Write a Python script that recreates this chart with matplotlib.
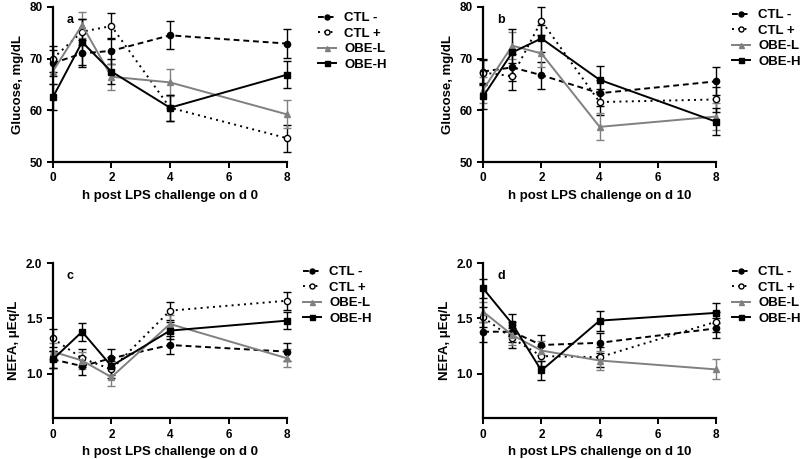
import matplotlib.pyplot as plt

# ----------------------------
# Daten
# ----------------------------
HOURS = [0, 1, 2, 4, 8]
GROUPS = ["CTL -", "CTL +", "OBE-L", "OBE-H"]

# Glukose, Tag 0
glu_d0 = {
    "CTL -": [69.1, 71.0, 71.5, 74.5, 72.9],
    "CTL +": [70.0, 75.2, 76.3, 60.5, 54.6],
    "OBE-L": [67.5, 76.5, 66.5, 65.4, 59.2],
    "OBE-H": [62.5, 73.2, 67.5, 60.5, 66.9],
}
glu_d0_err = {
    "CTL -": [2.5, 2.6, 2.5, 2.7, 2.8],
    "CTL +": [2.5, 2.5, 2.5, 2.5, 2.6],
    "OBE-L": [2.5, 2.5, 2.5, 2.6, 2.7],
    "OBE-H": [2.5, 4.5, 2.5, 2.5, 2.6],
}

# Glukose, Tag 10
glu_d10 = {
    "CTL -": [67.5, 68.3, 66.8, 63.3, 65.6],
    "CTL +": [67.3, 66.6, 77.3, 61.6, 62.1],
    "OBE-L": [64.0, 72.5, 71.0, 56.8, 58.8],
    "OBE-H": [62.7, 71.2, 73.9, 65.9, 57.8],
}
glu_d10_err = {
    "CTL -": [2.5, 2.6, 2.6, 2.5, 2.7],
    "CTL +": [2.5, 2.6, 2.7, 2.5, 2.5],
    "OBE-L": [2.5, 2.6, 2.6, 2.6, 2.6],
    "OBE-H": [2.5, 4.5, 2.6, 2.7, 2.6],
}

# NEFA, Tag 0
nefa_d0 = {
    "CTL -": [1.13, 1.07, 1.14, 1.26, 1.20],
    "CTL +": [1.32, 1.14, 1.04, 1.57, 1.66],
    "OBE-L": [1.20, 1.12, 0.97, 1.45, 1.14],
    "OBE-H": [1.13, 1.38, 1.07, 1.39, 1.48],
}
nefa_d0_err = {
    "CTL -": [0.08, 0.08, 0.08, 0.08, 0.08],
    "CTL +": [0.08, 0.08, 0.08, 0.08, 0.08],
    "OBE-L": [0.08, 0.08, 0.08, 0.08, 0.08],
    "OBE-H": [0.08, 0.08, 0.08, 0.08, 0.08],
}

# NEFA, Tag 10
nefa_d10 = {
    "CTL -": [1.38, 1.38, 1.26, 1.28, 1.41],
    "CTL +": [1.51, 1.32, 1.16, 1.15, 1.47],
    "OBE-L": [1.56, 1.35, 1.21, 1.12, 1.04],
    "OBE-H": [1.77, 1.45, 1.03, 1.48, 1.55],
}
nefa_d10_err = {
    "CTL -": [0.09, 0.09, 0.09, 0.09, 0.09],
    "CTL +": [0.09, 0.09, 0.09, 0.09, 0.09],
    "OBE-L": [0.09, 0.09, 0.09, 0.09, 0.09],
    "OBE-H": [0.09, 0.09, 0.09, 0.09, 0.09],
}

# ----------------------------
# Stil
# ----------------------------
plt.rcParams["font.family"] = ["Liberation Sans", "DejaVu Sans"]
plt.rcParams["font.weight"] = "bold"

STYLE = {
    "CTL -": dict(color="black", ls=(0, (3, 2)), marker="o", mfc="black", lw=1.4),
    "CTL +": dict(color="black", ls=(0, (1, 2.2)), marker="o", mfc="white", lw=1.4),
    "OBE-L": dict(color="#808080", ls="-", marker="^", mfc="#808080", lw=1.4),
    "OBE-H": dict(color="black", ls="-", marker="s", mfc="black", lw=1.4),
}


def draw_panel(fig, ax, data, err, letter, xlabel, ylabel, ylim, yticks, leg_xy):
    handles = []
    for g in GROUPS:
        st = STYLE[g]
        c = ax.errorbar(HOURS, data[g], yerr=err[g], color=st["color"], ls=st["ls"],
                        lw=st["lw"], marker=st["marker"], mfc=st["mfc"], mec=st["color"],
                        ms=4.5, mew=1.0, capsize=3, elinewidth=1.0, ecolor=st["color"],
                        clip_on=False)
        handles.append(c[0])
    ax.set_xlim(0, 8)
    ax.set_ylim(*ylim)
    ax.set_xticks([0, 2, 4, 6, 8])
    ax.set_yticks(yticks)
    ax.spines["top"].set_visible(False)
    ax.spines["right"].set_visible(False)
    ax.spines["left"].set_linewidth(1.6)
    ax.spines["bottom"].set_linewidth(1.6)
    ax.tick_params(width=1.4, length=4, labelsize=8.5)
    for t in ax.get_xticklabels() + ax.get_yticklabels():
        t.set_fontweight("bold")
    ax.set_xlabel(xlabel, fontsize=9.5, fontweight="bold", labelpad=4)
    ax.set_ylabel(ylabel, fontsize=9.5, fontweight="bold")
    ax.text(0.06, 0.915, letter, transform=ax.transAxes, fontsize=9,
            fontweight="bold", va="center")
    # Legende in Pixel-Koordinaten (oben links)
    leg = ax.legend(handles, GROUPS, loc="upper left",
                    bbox_to_anchor=(leg_xy[0] / 800, 1 - leg_xy[1] / 459),
                    bbox_transform=fig.transFigure, frameon=False,
                    fontsize=9.5, handlelength=1.4, handletextpad=0.6,
                    labelspacing=0.25, borderpad=0, borderaxespad=0,
                    markerscale=0.8)
    for t in leg.get_texts():
        t.set_fontweight("bold")


fig = plt.figure(figsize=(8, 4.59), dpi=100)
ax_a = fig.add_axes([0.066, 0.647, 0.293, 0.338])
ax_b = fig.add_axes([0.604, 0.647, 0.291, 0.338])
ax_c = fig.add_axes([0.066, 0.089, 0.293, 0.338])
ax_d = fig.add_axes([0.604, 0.089, 0.291, 0.338])

draw_panel(fig, ax_a, glu_d0, glu_d0_err, "a", "h post LPS challenge on d 0",
           "Glucose, mg/dL", (50, 80), [50, 60, 70, 80], (318, 12))
draw_panel(fig, ax_b, glu_d10, glu_d10_err, "b", "h post LPS challenge on d 10",
           "Glucose, mg/dL", (50, 80), [50, 60, 70, 80], (732, 9))
draw_panel(fig, ax_c, nefa_d0, nefa_d0_err, "c", "h post LPS challenge on d 0",
           "NEFA, μEq/L", (0.6, 2.0), [1.0, 1.5, 2.0], (303, 266))
draw_panel(fig, ax_d, nefa_d10, nefa_d10_err, "d", "h post LPS challenge on d 10",
           "NEFA, μEq/L", (0.6, 2.0), [1.0, 1.5, 2.0], (732, 266))

fig.savefig("out.png", dpi=100)
